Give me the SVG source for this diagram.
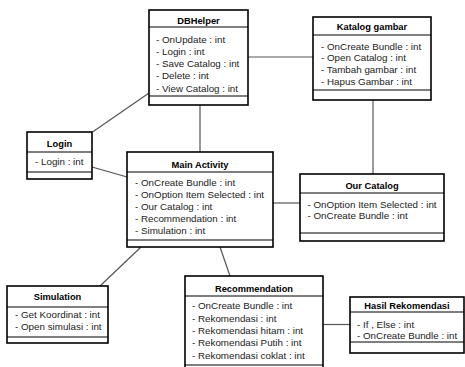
<svg xmlns="http://www.w3.org/2000/svg" width="465" height="367" viewBox="0 0 465 367">
<style>
.box{fill:#fff;stroke:#000;stroke-width:1.6}
.div{stroke:#000;stroke-width:1.2}
.t{font-family:"Liberation Sans",Arial,sans-serif;font-size:9.3px;font-weight:bold;text-anchor:middle;fill:#000}
.a{font-family:"Liberation Sans",Arial,sans-serif;font-size:9.8px;fill:#222}
.c{stroke:#555;stroke-width:1.2;fill:none}
</style>
<rect width="465" height="367" fill="#fff"/>
<g id="connectors">
<line class="c" x1="248" y1="57" x2="313" y2="57"/>
<line class="c" x1="200" y1="105" x2="200" y2="152"/>
<line class="c" x1="92.5" y1="132" x2="149" y2="93"/>
<line class="c" x1="92" y1="167" x2="127" y2="177"/>
<line class="c" x1="373" y1="100" x2="373" y2="174"/>
<line class="c" x1="273" y1="203" x2="300" y2="203"/>
<line class="c" x1="141" y1="247" x2="100" y2="286"/>
<line class="c" x1="220" y1="247" x2="230" y2="276"/>
<line class="c" x1="323" y1="324.5" x2="350" y2="324.5"/>
</g>
<g id="DBHelper">
<rect class="box" x="149" y="10" width="99" height="95"/>
<line class="div" x1="149" y1="27" x2="248" y2="27"/>
<line class="div" x1="149" y1="96" x2="248" y2="96"/>
<text class="t" x="198.5" y="23.5">DBHelper</text>
<text class="a" x="156" y="42.5">- OnUpdate : int</text>
<text class="a" x="156" y="54.5">- Login : int</text>
<text class="a" x="156" y="66.8">- Save Catalog : int</text>
<text class="a" x="156" y="79">- Delete : int</text>
<text class="a" x="156" y="91.5">- View Catalog : int</text>
</g>
<g id="KatalogGambar">
<rect class="box" x="313" y="17" width="118" height="83"/>
<line class="div" x1="313" y1="35" x2="431" y2="35"/>
<line class="div" x1="313" y1="90" x2="431" y2="90"/>
<text class="t" x="372" y="30">Katalog gambar</text>
<text class="a" x="321" y="49.5">- OnCreate Bundle : int</text>
<text class="a" x="321" y="61.2">- Open Catalog : int</text>
<text class="a" x="321" y="73.2">- Tambah gambar : int</text>
<text class="a" x="321" y="85">- Hapus Gambar : int</text>
</g>
<g id="Login">
<rect class="box" x="27" y="132" width="65" height="47"/>
<line class="div" x1="27" y1="152" x2="92" y2="152"/>
<line class="div" x1="27" y1="172" x2="92" y2="172"/>
<text class="t" x="59.5" y="146.5">Login</text>
<text class="a" x="35" y="165">- Login : int</text>
</g>
<g id="MainActivity">
<rect class="box" x="127" y="152" width="146" height="95"/>
<line class="div" x1="127" y1="172" x2="273" y2="172"/>
<line class="div" x1="127" y1="240" x2="273" y2="240"/>
<text class="t" x="200" y="167.5">Main Activity</text>
<text class="a" x="135" y="186">- OnCreate Bundle : int</text>
<text class="a" x="135" y="197.8">- OnOption Item Selected : int</text>
<text class="a" x="135" y="209.8">- Our Catalog : int</text>
<text class="a" x="135" y="221.8">- Recommendation : int</text>
<text class="a" x="135" y="234">- Simulation : int</text>
</g>
<g id="OurCatalog">
<rect class="box" x="300" y="174" width="144" height="67"/>
<line class="div" x1="300" y1="193" x2="444" y2="193"/>
<line class="div" x1="300" y1="233" x2="444" y2="233"/>
<text class="t" x="372" y="188.5">Our Catalog</text>
<text class="a" x="307.5" y="207.5">- OnOption Item Selected : int</text>
<text class="a" x="307.5" y="218.7">- OnCreate Bundle : int</text>
</g>
<g id="Simulation">
<rect class="box" x="7" y="286" width="101" height="57"/>
<line class="div" x1="7" y1="307" x2="108" y2="307"/>
<line class="div" x1="7" y1="337" x2="108" y2="337"/>
<text class="t" x="57.5" y="299.5">Simulation</text>
<text class="a" x="15" y="317.5">- Get Koordinat : int</text>
<text class="a" x="15" y="330">- Open simulasi : int</text>
</g>
<g id="Recommendation">
<rect class="box" x="185" y="276" width="138" height="96"/>
<line class="div" x1="185" y1="296" x2="323" y2="296"/>
<line class="div" x1="185" y1="365" x2="323" y2="365"/>
<text class="t" x="254" y="291.5">Recommendation</text>
<text class="a" x="192" y="308.5">- OnCreate Bundle : int</text>
<text class="a" x="192" y="321.5">- Rekomendasi : int</text>
<text class="a" x="192" y="334.3">- Rekomendasi hitam : int</text>
<text class="a" x="192" y="346">- Rekomendasi Putih : int</text>
<text class="a" x="192" y="358.5">- Rekomendasi coklat : int</text>
</g>
<g id="HasilRekomendasi">
<rect class="box" x="350" y="297" width="114" height="56"/>
<line class="div" x1="350" y1="312" x2="464" y2="312"/>
<line class="div" x1="350" y1="342" x2="464" y2="342"/>
<text class="t" x="407" y="309">Hasil Rekomendasi</text>
<text class="a" x="357" y="327.5">- If , Else : int</text>
<text class="a" x="357" y="338.5">- OnCreate Bundle : int</text>
</g>
</svg>
